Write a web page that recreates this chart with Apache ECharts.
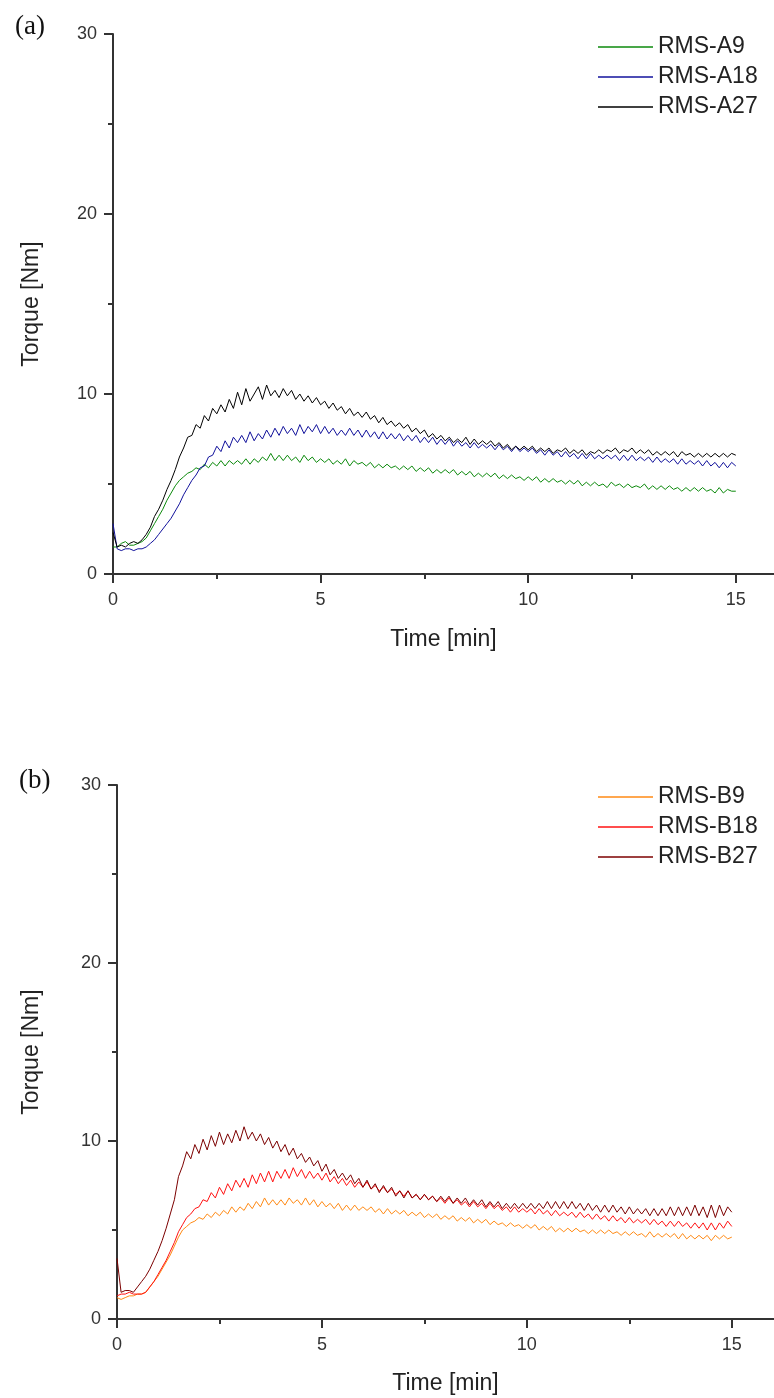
<!DOCTYPE html>
<html><head><meta charset="utf-8">
<script src="https://cdn.jsdelivr.net/npm/echarts@6/dist/echarts.min.js"></script>
<style>html,body{margin:0;padding:0;background:#fff}#c{width:774px;height:1398px}</style>
</head><body><div id="c"></div>
<script>
// sample times [min]
const timeMin = [
0,0.1,0.2,0.3,0.4,0.5,0.6,0.7,0.8,0.9,
1,1.1,1.2,1.3,1.4,1.5,1.6,1.7,1.8,1.9,
2,2.1,2.2,2.3,2.4,2.5,2.6,2.7,2.8,2.9,
3,3.1,3.2,3.3,3.4,3.5,3.6,3.7,3.8,3.9,
4,4.1,4.2,4.3,4.4,4.5,4.6,4.7,4.8,4.9,
5,5.1,5.2,5.3,5.4,5.5,5.6,5.7,5.8,5.9,
6,6.1,6.2,6.3,6.4,6.5,6.6,6.7,6.8,6.9,
7,7.1,7.2,7.3,7.4,7.5,7.6,7.7,7.8,7.9,
8,8.1,8.2,8.3,8.4,8.5,8.6,8.7,8.8,8.9,
9,9.1,9.2,9.3,9.4,9.5,9.6,9.7,9.8,9.9,
10,10.1,10.2,10.3,10.4,10.5,10.6,10.7,10.8,10.9,
11,11.1,11.2,11.3,11.4,11.5,11.6,11.7,11.8,11.9,
12,12.1,12.2,12.3,12.4,12.5,12.6,12.7,12.8,12.9,
13,13.1,13.2,13.3,13.4,13.5,13.6,13.7,13.8,13.9,
14,14.1,14.2,14.3,14.4,14.5,14.6,14.7,14.8,14.9,
15];

const xTickLabels = [0, 5, 10, 15];
const xMinorTicks = [2.5, 7.5, 12.5];
const yTicks = [0, 10, 20, 30];

const namesA = ['RMS-A9', 'RMS-A18', 'RMS-A27'];
const namesB = ['RMS-B9', 'RMS-B18', 'RMS-B27'];

// Panel (a) torque [Nm]
const rmsA9 = [
1.5,1.5,1.7,1.8,1.6,1.6,1.7,1.8,2.0,2.4,
2.8,3.2,3.6,4.1,4.5,4.9,5.2,5.4,5.6,5.7,
5.9,5.8,6.1,5.9,6.2,6.0,6.3,6.0,6.3,6.1,
6.3,6.1,6.4,6.1,6.4,6.2,6.5,6.3,6.7,6.3,
6.6,6.3,6.6,6.3,6.5,6.2,6.6,6.3,6.5,6.2,
6.4,6.2,6.4,6.1,6.3,6.1,6.4,6.0,6.3,6.1,
6.2,6.0,6.2,5.9,6.1,5.9,6.1,5.9,6.0,5.8,
6.0,5.8,6.0,5.7,5.9,5.7,5.9,5.6,5.8,5.6,
5.8,5.6,5.8,5.5,5.7,5.5,5.7,5.4,5.6,5.4,
5.6,5.4,5.6,5.3,5.5,5.3,5.5,5.3,5.4,5.2,
5.4,5.2,5.4,5.1,5.3,5.1,5.3,5.1,5.2,5.0,
5.2,5.0,5.2,4.9,5.1,4.9,5.1,4.9,5.0,4.8,
5.1,4.9,5.0,4.8,5.0,4.8,4.9,4.8,5.0,4.7,
4.9,4.7,4.9,4.7,4.9,4.7,4.8,4.6,4.8,4.6,
4.8,4.6,4.8,4.6,4.7,4.5,4.8,4.5,4.7,4.6,
4.6];
const rmsA18 = [
2.8,1.4,1.3,1.4,1.4,1.3,1.4,1.4,1.5,1.7,
1.9,2.2,2.5,2.8,3.1,3.5,3.9,4.4,4.8,5.2,
5.5,5.9,6.0,6.5,6.6,7.1,6.8,7.4,7.0,7.6,
7.3,7.7,7.3,7.9,7.4,7.8,7.5,8.0,7.6,8.1,
7.7,8.2,7.8,8.1,7.7,8.3,7.8,8.2,7.9,8.3,
7.8,8.2,7.8,8.1,7.7,8.0,7.7,8.1,7.7,8.0,
7.6,8.0,7.6,7.9,7.5,7.9,7.5,7.8,7.5,7.8,
7.4,7.7,7.4,7.7,7.3,7.6,7.3,7.6,7.2,7.5,
7.2,7.5,7.1,7.4,7.1,7.3,7.0,7.3,7.0,7.2,
7.0,7.2,6.9,7.2,6.9,7.1,6.8,7.1,6.8,7.0,
6.8,7.0,6.7,6.9,6.6,6.9,6.6,6.8,6.5,6.8,
6.5,6.7,6.4,6.7,6.4,6.7,6.4,6.6,6.4,6.6,
6.4,6.6,6.3,6.6,6.3,6.6,6.3,6.5,6.3,6.5,
6.2,6.5,6.2,6.4,6.2,6.4,6.1,6.4,6.1,6.3,
6.1,6.3,6.0,6.3,6.0,6.2,5.9,6.2,5.9,6.2,
6.0];
const rmsA27 = [
2.3,1.5,1.6,1.5,1.7,1.8,1.7,1.9,2.2,2.6,
3.2,3.6,4.1,4.7,5.2,5.8,6.5,7.0,7.6,7.7,
8.3,8.1,8.8,8.5,9.2,8.9,9.4,9.0,9.7,9.2,
10.1,9.4,10.3,9.6,10.0,10.4,9.7,10.5,9.9,10.2,
9.8,10.3,9.9,10.2,9.7,10.0,9.6,9.9,9.5,9.8,
9.4,9.6,9.2,9.5,9.1,9.3,8.9,9.2,8.8,9.0,
8.7,9.0,8.6,8.8,8.4,8.7,8.3,8.5,8.2,8.4,
8.1,8.3,7.9,8.1,7.8,8.0,7.6,7.8,7.5,7.7,
7.4,7.6,7.3,7.5,7.3,7.6,7.2,7.5,7.2,7.4,
7.2,7.4,7.1,7.3,7.0,7.2,6.9,7.1,6.9,7.1,
6.9,7.1,6.8,7.0,6.8,7.0,6.7,6.9,6.8,7.0,
6.7,6.9,6.7,6.9,6.6,6.8,6.7,6.9,6.7,6.9,
6.8,7.0,6.7,6.9,6.8,7.0,6.7,6.9,6.7,6.9,
6.6,6.8,6.6,6.8,6.6,6.8,6.5,6.8,6.6,6.7,
6.5,6.7,6.5,6.7,6.5,6.7,6.5,6.7,6.5,6.7,
6.6];

// Panel (b) torque [Nm]
const rmsB9 = [
1.2,1.1,1.2,1.3,1.3,1.4,1.4,1.5,1.8,2.1,
2.4,2.8,3.2,3.6,4.1,4.6,5.0,5.2,5.4,5.5,
5.7,5.6,5.9,5.7,6.0,5.8,6.1,5.9,6.3,6.0,
6.3,6.1,6.5,6.2,6.6,6.3,6.8,6.4,6.7,6.4,
6.7,6.4,6.8,6.5,6.7,6.4,6.8,6.4,6.7,6.3,
6.6,6.3,6.5,6.2,6.5,6.1,6.4,6.1,6.4,6.1,
6.3,6.1,6.3,6.0,6.2,5.9,6.2,5.9,6.1,5.9,
6.1,5.8,6.0,5.8,6.0,5.7,5.9,5.7,5.9,5.6,
5.8,5.6,5.8,5.5,5.7,5.5,5.7,5.4,5.6,5.4,
5.6,5.3,5.5,5.3,5.4,5.2,5.4,5.2,5.3,5.1,
5.3,5.1,5.3,5.0,5.2,5.0,5.2,4.9,5.1,4.9,
5.1,4.9,5.1,4.9,5.0,4.8,5.0,4.8,5.0,4.8,
5.0,4.8,4.9,4.7,4.9,4.7,4.9,4.7,4.8,4.6,
4.9,4.6,4.8,4.6,4.8,4.6,4.8,4.5,4.8,4.5,
4.7,4.5,4.7,4.5,4.7,4.4,4.7,4.5,4.7,4.5,
4.6];
const rmsB18 = [
1.3,1.4,1.4,1.5,1.4,1.4,1.4,1.5,1.8,2.1,
2.5,2.9,3.3,3.8,4.3,4.9,5.3,5.7,5.9,6.2,
6.3,6.7,6.6,7.1,6.8,7.4,7.0,7.6,7.2,7.8,
7.4,7.9,7.4,8.1,7.6,8.2,7.7,8.3,7.7,8.3,
7.9,8.4,7.9,8.5,8.0,8.4,7.9,8.3,7.9,8.2,
7.8,8.2,7.7,8.0,7.6,7.9,7.5,7.8,7.4,7.7,
7.4,7.7,7.3,7.5,7.2,7.4,7.1,7.3,7.0,7.2,
6.9,7.2,6.8,7.0,6.7,7.0,6.7,6.9,6.6,6.8,
6.5,6.8,6.5,6.7,6.4,6.6,6.3,6.6,6.3,6.5,
6.2,6.5,6.2,6.4,6.1,6.3,6.0,6.3,6.0,6.2,
6.0,6.2,5.9,6.2,5.9,6.1,5.8,6.1,5.8,6.0,
5.8,6.0,5.7,6.0,5.7,5.9,5.6,5.9,5.6,5.8,
5.5,5.8,5.5,5.7,5.4,5.7,5.4,5.6,5.4,5.6,
5.3,5.6,5.3,5.5,5.2,5.5,5.2,5.5,5.2,5.4,
5.1,5.4,5.1,5.4,5.0,5.4,5.0,5.4,5.1,5.5,
5.2];
const rmsB27 = [
3.4,1.5,1.6,1.6,1.5,1.8,2.1,2.4,2.8,3.3,
3.8,4.4,5.1,5.9,6.7,8.0,8.6,9.4,9.0,9.8,
9.3,10.1,9.5,10.3,9.7,10.5,9.8,10.4,9.9,10.6,
10.0,10.8,10.1,10.5,10.0,10.4,9.8,10.2,9.6,10.0,
9.4,9.8,9.2,9.6,9.0,9.3,8.8,9.1,8.6,8.9,
8.3,8.7,8.1,8.4,7.9,8.2,7.8,8.1,7.6,7.9,
7.4,7.8,7.3,7.6,7.1,7.5,7.1,7.4,6.9,7.2,
6.8,7.2,6.8,7.0,6.7,7.0,6.7,6.9,6.6,6.9,
6.6,6.9,6.5,6.8,6.5,6.8,6.4,6.7,6.4,6.7,
6.3,6.6,6.3,6.6,6.2,6.5,6.2,6.5,6.2,6.5,
6.2,6.5,6.2,6.5,6.2,6.6,6.2,6.6,6.2,6.6,
6.2,6.6,6.2,6.5,6.1,6.5,6.1,6.4,6.0,6.4,
6.0,6.4,6.0,6.3,5.9,6.3,5.9,6.2,5.9,6.2,
5.8,6.2,5.8,6.2,5.8,6.3,5.8,6.3,5.8,6.3,
5.8,6.4,5.8,6.3,5.7,6.4,5.7,6.4,5.8,6.3,
6.0];

const colorsA = ['#0c8a0c', '#12129c', '#000000'];
const colorsB = ['#ff8a14', '#ff1212', '#7c0000'];

const FONT = '"Liberation Sans", Arial, sans-serif';
const pairs = vals => vals.map((v, i) => [timeMin[i], v]);

const axisLineStyle = { color: '#333', width: 2 };
function mainX(grid, max, gap) {
  return {
    gridIndex: grid, type: 'value', min: 0, max: max,
    name: 'Time [min]', nameLocation: 'middle', nameGap: gap,
    nameTextStyle: { fontSize: 23, color: '#222', fontFamily: FONT },
    axisLine: { show: true, lineStyle: axisLineStyle },
    axisTick: { show: true, customValues: xTickLabels, length: 9, lineStyle: axisLineStyle },
    axisLabel: { customValues: xTickLabels, fontSize: 18, color: '#333', margin: 17, fontFamily: FONT },
    splitLine: { show: false }
  };
}
function minorX(grid, max) {
  return {
    gridIndex: grid, type: 'value', position: 'bottom', min: 0, max: max,
    axisLine: { show: false },
    axisTick: { show: true, customValues: xMinorTicks, length: 5, lineStyle: axisLineStyle },
    axisLabel: { show: false },
    splitLine: { show: false }
  };
}
function yAx(grid, gap) {
  return {
    gridIndex: grid, type: 'value', min: 0, max: 30, interval: 10,
    name: 'Torque [Nm]', nameLocation: 'middle', nameGap: gap, nameRotate: 90,
    nameTextStyle: { fontSize: 23, color: '#222', fontFamily: FONT },
    axisLine: { show: true, lineStyle: axisLineStyle },
    axisTick: { show: true, length: 9, lineStyle: axisLineStyle },
    minorTick: { show: true, splitNumber: 2, length: 5, lineStyle: axisLineStyle },
    axisLabel: { fontSize: 18, color: '#333', margin: 16, fontFamily: FONT },
    splitLine: { show: false }, minorSplitLine: { show: false }
  };
}
function legendFor(names, top) {
  return {
    data: names, orient: 'vertical', left: 593, top: top,
    itemWidth: 55, itemHeight: 14, itemGap: 6,
    icon: 'path://M0,0L100,0L100,2.6L0,2.6Z',
    textStyle: { fontSize: 23, lineHeight: 24, color: '#222', fontFamily: FONT }
  };
}
function lineSeries(name, vals, color, xi, yi) {
  return {
    name: name, type: 'line', xAxisIndex: xi, yAxisIndex: yi,
    data: pairs(vals), symbol: 'none', showSymbol: false,
    lineStyle: { width: 1, color: color }, itemStyle: { color: color },
    silent: true, animation: false
  };
}

const chart = echarts.init(document.getElementById('c'), null, { renderer: 'canvas' });
chart.setOption({
  backgroundColor: '#ffffff',
  animation: false,
  title: [
    { text: '(a)', left: 10, top: 8, textStyle: { fontFamily: '"Liberation Serif", "Times New Roman", serif', fontSize: 27, fontWeight: 'normal', color: '#111' } },
    { text: '(b)', left: 14, top: 762, textStyle: { fontFamily: '"Liberation Serif", "Times New Roman", serif', fontSize: 27, fontWeight: 'normal', color: '#111' } }
  ],
  legend: [legendFor(namesA, 30), legendFor(namesB, 780)],
  grid: [
    { left: 113, top: 34, width: 661, height: 540 },
    { left: 117, top: 785, width: 657, height: 534 }
  ],
  xAxis: [mainX(0, 15.92, 54), minorX(0, 15.92), mainX(1, 16.03, 53), minorX(1, 16.03)],
  yAxis: [yAx(0, 70), yAx(1, 74)],
  series: [
    lineSeries(namesA[0], rmsA9, colorsA[0], 0, 0),
    lineSeries(namesA[1], rmsA18, colorsA[1], 0, 0),
    lineSeries(namesA[2], rmsA27, colorsA[2], 0, 0),
    lineSeries(namesB[0], rmsB9, colorsB[0], 2, 1),
    lineSeries(namesB[1], rmsB18, colorsB[1], 2, 1),
    lineSeries(namesB[2], rmsB27, colorsB[2], 2, 1)
  ]
});
</script></body></html>
